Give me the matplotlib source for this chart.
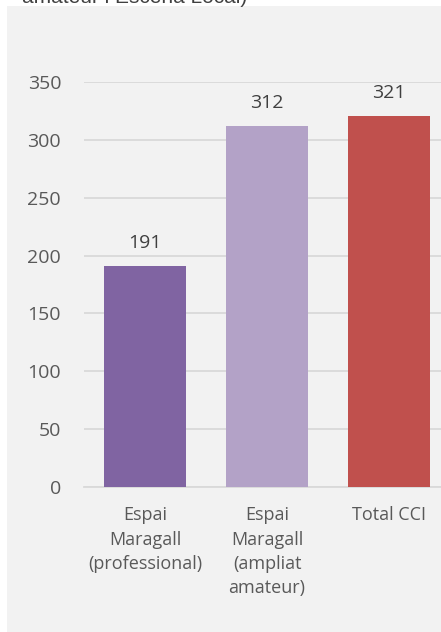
import matplotlib
matplotlib.use("Agg")
import matplotlib.pyplot as plt
from matplotlib.patches import Rectangle

categories = ["Espai\nMaragall\n(professional)", "Espai\nMaragall\n(ampliat\namateur)", "Total CCI"]
values = [191, 312, 321]
colors = ["#8064a2", "#b3a2c7", "#c0504d"]
yticks = [0, 50, 100, 150, 200, 250, 300, 350]

plt.rcParams['font.family'] = ['Open Sans', 'DejaVu Sans']
fig = plt.figure(figsize=(4.41, 6.32), dpi=100)
fig.patch.set_facecolor("white")
bg = Rectangle((7/441, 0), 1, 1 - 6/632, transform=fig.transFigure,
               facecolor="#f2f2f2", edgecolor="none", zorder=-10)
fig.add_artist(bg)
fig.text(22/441, 1 - 3/632, "amateur i Escena Local)", fontsize=15, color="#404040",
         family="Liberation Sans", ha="left", va="baseline")

ax = fig.add_axes([84/441, 145/632, 366/441, 405/632])
ax.set_zorder(1)
ax.set_facecolor("none")
x = list(range(len(values)))
bars = ax.bar(x, values, width=0.67, color=colors, zorder=3)
for xi, v in zip(x, values):
    ax.annotate(str(v), (xi, v), xytext=(0, 13), textcoords="offset points",
                ha="center", va="baseline", fontsize=14, color="#404040")
ax.set_xlim(-0.5, 2.5)
ax.set_ylim(0, 350)
ax.set_yticks(yticks)
ax.set_yticklabels([str(t) for t in yticks], fontsize=14, color="#595959")
ax.set_xticks(x)
ax.set_xticklabels(categories, fontsize=13, color="#595959", linespacing=1.45)
ax.grid(axis="y", color="#d9d9d9", linewidth=1.3, zorder=0)
for s in ["top", "right", "left"]:
    ax.spines[s].set_visible(False)
ax.spines["bottom"].set_color("#d9d9d9")
ax.spines["bottom"].set_linewidth(1.3)
ax.tick_params(axis="both", length=0)
ax.tick_params(axis="y", pad=16.5)
ax.tick_params(axis="x", pad=14)
fig.savefig("out.png", dpi=100)
